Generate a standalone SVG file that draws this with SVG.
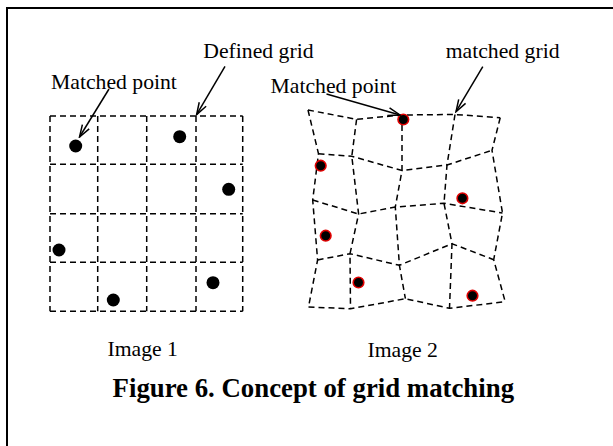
<svg xmlns="http://www.w3.org/2000/svg" width="613" height="446" viewBox="0 0 613 446">
<style>
.t{font-family:"Liberation Serif","Times New Roman",serif;font-size:21.7px;fill:#000}
.title{font-family:"Liberation Serif","Times New Roman",serif;font-size:26.8px;font-weight:bold;fill:#000}
.g{fill:none;stroke:#000;stroke-width:1.5;stroke-dasharray:6 4}
.dot{fill:#000}
.rdot{fill:#000;stroke:#e00000;stroke-width:1.6}
.arr{stroke:#000;stroke-width:1.5;fill:none;marker-end:url(#ah)}
</style>
<defs>
<marker id="ah" markerUnits="userSpaceOnUse" markerWidth="14" markerHeight="10" refX="13" refY="5" orient="auto">
<path d="M1,1 L13,5 L1,9" fill="none" stroke="#000" stroke-width="1.5"/>
</marker>
</defs>
<rect width="613" height="446" fill="#fff"/>
<path d="M7,446 V8 H613" fill="none" stroke="#000" stroke-width="2"/>

<g id="left-grid">
<path class="g" d="M50,116 V311.3 M97.7,116 V311.3 M146.7,116 V311.3 M196,116 V311.3 M242.7,116 V311.3"/>
<path class="g" d="M50,116 H242.7 M50,164.3 H242.7 M50,213.7 H242.7 M50,262.3 H242.7 M50,311.3 H242.7"/>
</g>
<g id="left-points">
<circle class="dot" cx="75.7" cy="146" r="6.5"/>
<circle class="dot" cx="179.7" cy="136.7" r="6.5"/>
<circle class="dot" cx="228.7" cy="189.3" r="6.5"/>
<circle class="dot" cx="59" cy="250" r="6.5"/>
<circle class="dot" cx="213" cy="282.7" r="6.5"/>
<circle class="dot" cx="113.3" cy="300" r="6.5"/>
</g>

<g id="right-grid">
<path class="g" d="M308,110 L356.6,119.3 L402,115 L455,114.5 L500.2,117.8"/>
<path class="g" d="M318.5,153.7 L351.8,156.3 L402,170.5 L447,165 L492,150.3"/>
<path class="g" d="M312.7,200 L358.6,214 L395.3,207 L444,203.3 L502.5,213"/>
<path class="g" d="M317.6,260 L350,253.7 L399.4,265.3 L452,243.7 L493.7,259.7"/>
<path class="g" d="M308.5,307 L350.5,308.8 L405.4,298.7 L449.5,308.3 L505.2,301.7"/>
<path class="g" d="M308,110 L318.5,153.7 L312.7,200 L317.6,260 L308.5,307"/>
<path class="g" d="M356.6,119.3 L351.8,156.3 L358.6,214 L350,253.7 L350.5,308.8"/>
<path class="g" d="M402,115 L402,170.5 L395.3,207 L399.4,265.3 L405.4,298.7"/>
<path class="g" d="M455,114.5 L447,165 L444,203.3 L452,243.7 L449.5,308.3"/>
<path class="g" d="M500.2,117.8 L492,150.3 L502.5,213 L493.7,259.7 L505.2,301.7"/>
</g>
<g id="right-points">
<circle class="rdot" cx="403.3" cy="119.5" r="5.3"/>
<circle class="rdot" cx="320.7" cy="165.7" r="5.3"/>
<circle class="rdot" cx="462.4" cy="198.3" r="5.3"/>
<circle class="rdot" cx="325.7" cy="235.7" r="5.3"/>
<circle class="rdot" cx="358.5" cy="282.5" r="5.3"/>
<circle class="rdot" cx="472.5" cy="295.7" r="5.3"/>
</g>

<g id="connectors">
<line class="arr" x1="109" y1="89" x2="79.5" y2="137"/>
<line class="arr" x1="225" y1="66.3" x2="196.6" y2="114.6"/>
<line class="arr" x1="326.5" y1="94" x2="400" y2="115"/>
<line class="arr" x1="482.8" y1="66.7" x2="456" y2="111.7"/>
</g>

<g id="labels">
<text class="t" x="51" y="89.3">Matched point</text>
<text class="t" x="203.3" y="58.3">Defined grid</text>
<text class="t" x="270.5" y="92.7">Matched point</text>
<text class="t" x="445.7" y="58.3">matched grid</text>
<text class="t" x="107.5" y="356">Image 1</text>
<text class="t" x="367.5" y="356.5">Image 2</text>
<text class="title" x="112.6" y="397.3">Figure 6. Concept of grid matching</text>
</g>
</svg>
